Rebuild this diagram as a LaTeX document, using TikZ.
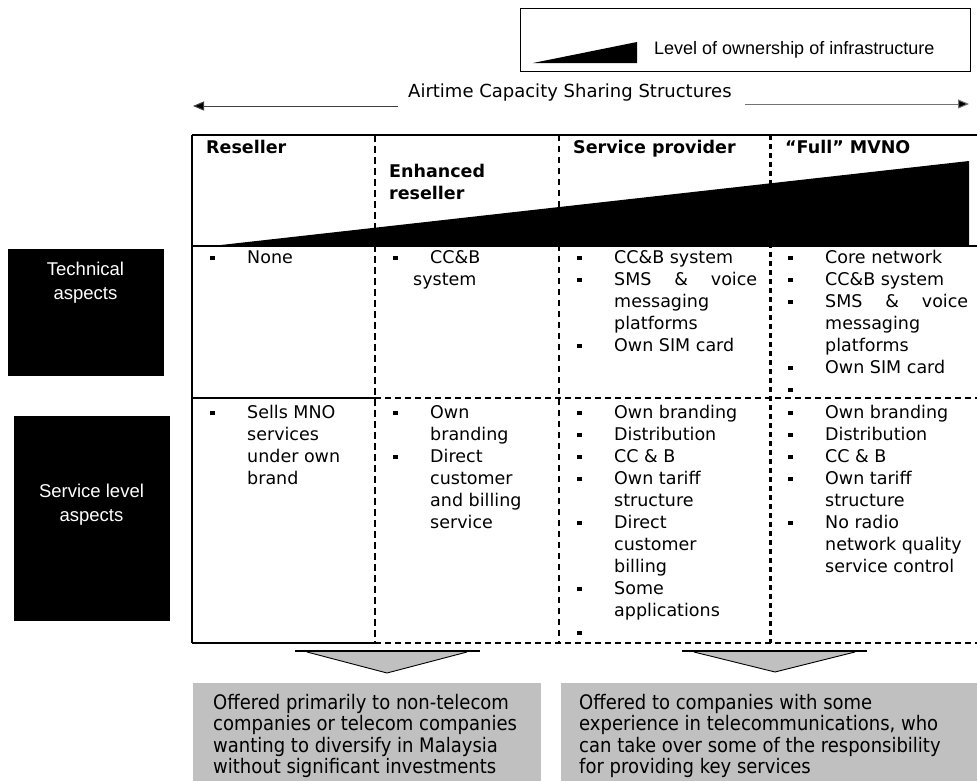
\documentclass[tikz,border=0pt]{standalone}
\usepackage{fontspec}
\setmainfont{DejaVu Sans}
\newfontfamily\arialf{Liberation Sans}
\newfontfamily\tahf[FakeStretch=0.9]{DejaVu Sans}
\usetikzlibrary{arrows.meta}
\newcommand{\bul}{\makebox[37pt][l]{\raisebox{2.6pt}{\rule{4.8pt}{4.8pt}}}}
\newcommand{\ind}{\hspace*{37pt}}
\newcommand{\cl}[1]{\begin{tabular}[t]{@{}l@{}}#1\end{tabular}}
\newcommand{\smsv}{\makebox[143pt][l]{SMS\hfill\&\hfill voice}}
\definecolor{boxgray}{HTML}{C0C0C0}
\begin{document}
\begin{tikzpicture}[x=1pt,y=-1pt,
  cell/.style={anchor=base west,inner sep=0pt,font=\fontsize{17.5}{22}\selectfont},
  head/.style={anchor=base west,inner sep=0pt,font=\fontsize{17.5}{22}\selectfont\bfseries},
  blackbox/.style={fill=black,draw=black},
  sidetext/.style={text=white,inner sep=0pt,font=\arialf\fontsize{18.5}{24}\selectfont,anchor=base},
  solidline/.style={line width=1.6pt},
  hdash/.style={line width=2.8pt,dash pattern=on 6pt off 4pt},
  vdashA/.style={line width=2.8pt,dash pattern=on 7pt off 4pt},
  vdashB/.style={line width=1.4pt,dash pattern=on 6pt off 5pt},
  vdashC/.style={line width=3pt,dash pattern=on 5pt off 4pt},
  offer/.style={fill=boxgray,draw=none},
  offertext/.style={anchor=base west,inner sep=0pt,font=\tahf\fontsize{20}{21}\selectfont},
  airarrow/.style={line width=1pt,draw=black!75,-{Triangle[length=11pt,width=9pt,fill=black]}},
]
\useasboundingbox (0,0) rectangle (977,780);
\fill[white] (0,0) rectangle (977,780);

% legend
\node[draw=black,line width=1.3pt,minimum width=450pt,minimum height=63pt,anchor=north west,inner sep=0pt] (legend) at (520,8) {};
\fill[black] (533,63) -- (637,42) -- (637,63) -- cycle;
\node[anchor=base west,inner sep=0pt,font=\arialf\fontsize{18}{22}\selectfont] (legtext) at (654,54) {Level of ownership of infrastructure};

% airtime arrow
\node[anchor=base west,inner sep=0pt,font=\fontsize{18}{22}\selectfont] (air) at (408,97) {Airtime Capacity Sharing Structures};
\coordinate (airL) at (193,106);
\coordinate (airR) at (969,104);
\coordinate (airLs) at (398,106);
\coordinate (airRs) at (745,104);
\draw[airarrow] (airLs) -- (airL);
\draw[airarrow,draw=black!55] (airRs) -- (airR);

% header wedge
\fill[black] (212,246) -- (969,161) -- (969,246) -- cycle;

% table lines
\draw[solidline] (192,135) -- (977,135);
\draw[solidline] (192,246) -- (977,246);
\draw[solidline] (192,135) -- (192,643);
\draw[solidline] (192,398) -- (375,398);
\draw[solidline] (192,643) -- (375,643);
\draw[hdash] (375,398) -- (977,398);
\draw[hdash] (375,643) -- (977,643);
\draw[vdashA] (375,135) -- (375,643);
\draw[vdashB] (559,135) -- (559,643);
\draw[vdashC] (770,135) -- (770,643);

% headers
\node[head] (hres) at (206,153) {Reseller};
\node[head] (henh) at (389,177) {\cl{Enhanced\\reseller}};
\node[head] (hsp) at (573,153) {Service provider};
\node[head] (hfull) at (785,153) {“Full” MVNO};

% technical row
\node[cell] (t1) at (210,263) {\cl{\bul None}};
\node[cell] (t2) at (393,263) {\cl{\bul CC\&B\\ \hspace*{20pt}system}};
\node[cell] (t3) at (577,263) {\cl{\bul CC\&B system\\ \bul\smsv\\ \ind messaging\\ \ind platforms\\ \bul Own SIM card}};
\node[cell] (t4) at (788,263) {\cl{\bul Core network\\ \bul CC\&B system\\ \bul\smsv\\ \ind messaging\\ \ind platforms\\ \bul Own SIM card\\ \bul}};

% service row
\node[cell] (s1) at (210,418) {\cl{\bul Sells MNO\\ \ind services\\ \ind under own\\ \ind brand}};
\node[cell] (s2) at (393,418) {\cl{\bul Own\\ \ind branding\\ \bul Direct\\ \ind customer\\ \ind and billing\\ \ind service}};
\node[cell] (s3) at (577,418) {\cl{\bul Own branding\\ \bul Distribution\\ \bul CC \& B\\ \bul Own tariff\\ \ind structure\\ \bul Direct\\ \ind customer\\ \ind billing\\ \bul Some\\ \ind applications\\ \bul}};
\node[cell] (s4) at (788,418) {\cl{\bul Own branding\\ \bul Distribution\\ \bul CC \& B\\ \bul Own tariff\\ \ind structure\\ \bul No radio\\ \ind network quality\\ \ind service control}};

% side boxes
\node[blackbox,minimum width=155pt,minimum height=126pt,anchor=north west,inner sep=0pt] (techbox) at (8,249) {};
\node[sidetext] (techtext) at (85.5,275) {\begin{tabular}[t]{@{}c@{}}Technical\\aspects\end{tabular}};
\node[blackbox,minimum width=155pt,minimum height=204pt,anchor=north west,inner sep=0pt] (servbox) at (14,416) {};
\node[sidetext] (servtext) at (91.5,497) {\begin{tabular}[t]{@{}c@{}}Service level\\aspects\end{tabular}};

% bottom arrows
\fill[boxgray] (307,652) -- (467,652) -- (387,673) -- cycle;
\draw[line width=0.9pt] (307,652) -- (387,673) -- (467,652);
\draw[line width=2pt] (295,651) -- (480,651);
\fill[boxgray] (694,652) -- (855,652) -- (775,672) -- cycle;
\draw[line width=0.9pt] (694,652) -- (775,672) -- (855,652);
\draw[line width=2pt] (682,651) -- (867,651);

% offer boxes
\node[offer,minimum width=348pt,minimum height=100pt,anchor=north west,inner sep=0pt] (offerL) at (193,683) {};
\node[offer,minimum width=420pt,minimum height=100pt,anchor=north west,inner sep=0pt] (offerR) at (561,683) {};
\node[offertext] (offerLt) at (213,709) {\cl{Offered primarily to non-telecom\\companies or telecom companies\\wanting to diversify in Malaysia\\without significant investments}};
\node[offertext] (offerRt) at (579,709) {\cl{Offered to companies with some\\experience in telecommunications, who\\can take over some of the responsibility\\for providing key services}};
\end{tikzpicture}
\end{document}
